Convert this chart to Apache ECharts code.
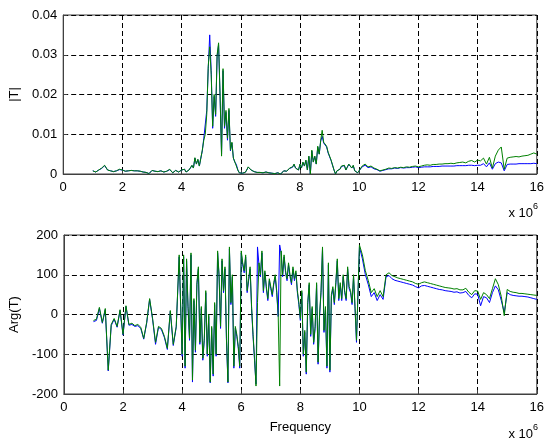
<!DOCTYPE html>
<html style="height: 100%">
<head>
    <meta charset="utf-8">
    <style type="text/css">
        .chartbox{width: 547px;height:441px;}
    </style>
</head>
<body style="height: 100%; margin: 0; background: #fff">
<div class="chartbox" id="container"></div>
<script src="https://cdn.jsdelivr.net/npm/echarts@6/dist/echarts.min.js"></script>
<script type="text/javascript">
    // frequency points, in units of 1e6
    var freq = [
        1.0,1.1,1.2,1.3,1.4,1.5,1.6,1.7,1.8,1.9,
        2.0,2.1,2.2,2.3,2.4,2.5,2.6,2.7,2.8,2.9,
        3.0,3.1,3.2,3.3,3.4,3.5,3.6,3.7,3.8,3.9,
        4.0,
        4.05,4.1,4.15,4.2,4.25,4.3,4.35,4.4,4.45,4.5,
        4.55,4.6,4.65,4.7,4.75,4.8,4.85,4.9,4.95,5.0,
        5.05,5.1,5.15,5.2,5.25,5.3,5.35,5.4,5.45,5.5,
        5.55,5.6,5.65,5.7,5.75,5.8,5.85,5.9,5.95,6.0,
        6.05,6.1,6.15,6.2,6.25,6.3,6.35,6.4,6.45,6.5,
        6.55,6.6,6.65,6.7,6.75,6.8,6.85,6.9,6.95,7.0,
        7.05,7.1,7.15,7.2,7.25,7.3,7.35,7.4,7.45,7.5,
        7.55,7.6,7.65,7.7,7.75,7.8,7.85,7.9,7.95,8.0,
        8.05,8.1,8.15,8.2,8.25,8.3,8.35,8.4,8.45,8.5,
        8.55,8.6,8.65,8.7,8.75,8.8,8.85,8.9,8.95,9.0,
        9.05,9.1,9.15,9.2,9.25,9.3,9.35,9.4,9.45,9.5,
        9.55,9.6,9.65,9.7,9.75,9.8,9.85,9.9,9.95,10.0,
        10.1,10.2,10.3,10.4,10.5,10.6,10.7,10.8,10.9,11.0,
        11.1,11.2,11.3,11.4,11.5,11.6,11.7,11.8,11.9,12.0,
        12.1,12.2,12.3,12.4,12.5,12.6,12.7,12.8,12.9,13.0,
        13.1,13.2,13.3,13.4,13.5,13.6,13.7,13.8,13.9,14.0,
        14.1,14.2,14.3,14.4,14.5,14.6,14.7,14.8,14.9,15.0,
        15.1,15.2,15.3,15.4,15.5,15.6,15.7,15.8,15.9,16.0
    ];

    // |T|, green trace
    var magGreen = [
        0.0008,0.0005,0.0010,0.0015,0.0022,0.0010,0.0008,0.0006,0.0008,0.0012,
        0.0010,0.0007,0.0008,0.0009,0.0008,0.0008,0.0007,0.0005,0.0004,0.0001,
        0.0009,0.0007,0.0006,0.0008,0.0005,0.0007,0.0012,0.0003,0.0009,0.0005,
        0.0010,
        0.0006,0.0012,0.0005,0.0008,0.0010,0.0013,0.0022,0.0015,0.0041,0.0025,
        0.0037,0.0020,0.0040,0.0060,0.0085,0.0100,0.0150,0.0270,0.0320,0.0250,
        0.0120,0.0200,0.0150,0.0300,0.0330,0.0200,0.0045,0.0265,0.0120,0.0160,
        0.0090,0.0165,0.0060,0.0080,0.0040,0.0030,0.0025,0.0010,0.0003,0.0000,
        0.0002,0.0001,0.0004,0.0010,0.0018,0.0014,0.0010,0.0008,0.0006,0.0005,
        0.0004,0.0006,0.0004,0.0005,0.0003,0.0004,0.0005,0.0004,0.0003,0.0004,
        0.0002,0.0003,0.0001,0.0002,0.0003,0.0001,0.0000,0.0004,0.0008,0.0010,
        0.0007,0.0012,0.0015,0.0010,0.0018,0.0025,0.0015,0.0020,0.0010,0.0025,
        0.0015,0.0030,0.0020,0.0035,0.0010,0.0045,0.0000,0.0060,0.0030,0.0045,
        0.0025,0.0070,0.0050,0.0085,0.0110,0.0080,0.0075,0.0070,0.0055,0.0060,
        0.0035,0.0030,0.0010,0.0000,0.0008,0.0005,0.0012,0.0020,0.0015,0.0022,
        0.0010,0.0018,0.0025,0.0020,0.0015,0.0022,0.0008,0.0012,0.0003,0.0008,
        0.0020,0.0025,0.0018,0.0020,0.0015,0.0012,0.0008,0.0010,0.0012,0.0015,
        0.0014,0.0016,0.0015,0.0017,0.0016,0.0018,0.0017,0.0019,0.0020,0.0018,
        0.0020,0.0022,0.0023,0.0022,0.0024,0.0024,0.0025,0.0025,0.0026,0.0026,
        0.0027,0.0026,0.0028,0.0029,0.0030,0.0028,0.0032,0.0034,0.0030,0.0035,
        0.0033,0.0040,0.0025,0.0042,0.0015,0.0045,0.0060,0.0068,0.0012,0.0040,
        0.0042,0.0043,0.0044,0.0043,0.0045,0.0046,0.0047,0.0050,0.0053,0.0050
    ];

    // |T|, blue trace
    var magBlue = [
        0.0008,0.0005,0.0010,0.0014,0.0021,0.0010,0.0008,0.0006,0.0008,0.0011,
        0.0010,0.0007,0.0008,0.0009,0.0008,0.0008,0.0007,0.0005,0.0004,0.0001,
        0.0009,0.0007,0.0006,0.0008,0.0005,0.0007,0.0011,0.0003,0.0009,0.0005,
        0.0010,
        0.0006,0.0012,0.0005,0.0008,0.0010,0.0013,0.0021,0.0015,0.0040,0.0025,
        0.0036,0.0020,0.0040,0.0058,0.0090,0.0095,0.0160,0.0265,0.0350,0.0260,
        0.0115,0.0195,0.0145,0.0295,0.0325,0.0195,0.0050,0.0260,0.0115,0.0155,
        0.0085,0.0160,0.0058,0.0078,0.0040,0.0030,0.0024,0.0010,0.0003,0.0000,
        0.0002,0.0001,0.0004,0.0010,0.0017,0.0013,0.0010,0.0008,0.0006,0.0005,
        0.0004,0.0006,0.0004,0.0005,0.0003,0.0004,0.0005,0.0004,0.0003,0.0004,
        0.0002,0.0003,0.0001,0.0002,0.0003,0.0001,0.0000,0.0004,0.0008,0.0010,
        0.0007,0.0012,0.0014,0.0010,0.0017,0.0024,0.0015,0.0019,0.0010,0.0024,
        0.0015,0.0029,0.0020,0.0034,0.0010,0.0044,0.0000,0.0058,0.0030,0.0044,
        0.0025,0.0068,0.0050,0.0083,0.0095,0.0078,0.0073,0.0068,0.0053,0.0058,
        0.0034,0.0029,0.0010,0.0000,0.0008,0.0005,0.0012,0.0019,0.0015,0.0021,
        0.0010,0.0017,0.0024,0.0019,0.0015,0.0021,0.0008,0.0012,0.0003,0.0008,
        0.0018,0.0022,0.0016,0.0018,0.0013,0.0011,0.0007,0.0009,0.0011,0.0013,
        0.0013,0.0015,0.0014,0.0016,0.0015,0.0016,0.0016,0.0017,0.0018,0.0016,
        0.0017,0.0018,0.0018,0.0018,0.0019,0.0019,0.0019,0.0020,0.0020,0.0020,
        0.0020,0.0020,0.0021,0.0021,0.0021,0.0021,0.0022,0.0022,0.0021,0.0022,
        0.0022,0.0026,0.0018,0.0028,0.0012,0.0026,0.0030,0.0028,0.0008,0.0024,
        0.0025,0.0025,0.0025,0.0026,0.0026,0.0026,0.0026,0.0026,0.0027,0.0026
    ];

    // Arg(T), green trace
    var argGreen = [
        -15,-12,18,-20,15,-140,-25,-10,-30,12,
        -50,22,-25,-22,-28,-25,-32,-60,-20,40,
        -10,-70,-30,-35,-55,-85,10,-75,-30,150,
        -100,
        150,-130,140,20,-60,155,-165,40,-90,80,
        120,-70,20,-110,-60,60,-100,0,-170,-30,
        -150,30,-100,160,100,-30,140,60,120,-60,
        -170,170,30,100,-130,-30,-50,-80,-130,160,
        130,110,150,60,90,120,20,-50,-110,-180,
        30,130,100,160,60,110,70,40,90,70,
        50,80,100,60,0,-180,160,100,150,110,
        90,130,100,80,120,90,110,60,30,-10,
        60,-100,-40,-145,30,80,-50,20,-70,-30,
        80,-120,0,60,170,-40,20,-130,130,-140,
        50,70,30,80,140,40,80,40,100,60,
        40,120,70,60,30,100,20,-65,-60,175,
        150,110,85,55,65,45,60,45,100,105,
        98,95,92,90,88,86,84,82,78,76,
        80,82,80,78,76,74,72,70,68,67,
        66,64,65,62,62,66,56,50,60,59,
        38,55,50,40,65,90,75,45,-3,63,
        58,56,55,53,53,52,51,50,49,48
    ];

    // Arg(T), blue trace
    var argBlue = [
        -18,-15,15,-22,12,-142,-28,-12,-32,10,
        -52,20,-27,-25,-30,-28,-35,-62,-22,38,
        -12,-75,-32,-38,-58,-88,8,-78,-32,145,
        -105,
        145,-135,135,15,-65,150,-170,35,-95,75,
        115,-75,15,-115,-65,55,-105,-5,-172,-35,
        -155,25,-105,155,95,-35,135,55,115,-65,
        -172,165,25,95,-135,-35,-55,-85,-135,155,
        125,105,145,55,85,115,15,-55,-115,-175,
        170,125,95,155,55,105,65,35,85,65,
        45,75,95,55,-5,175,155,95,145,105,
        85,125,95,75,115,85,105,55,25,-15,
        55,-105,-45,-150,25,75,-55,15,-75,-35,
        75,-125,-5,55,165,-45,15,-135,125,-145,
        45,65,25,75,135,35,75,35,95,55,
        35,115,65,55,25,95,15,-70,-65,170,
        140,100,75,45,55,35,50,38,95,98,
        90,86,84,82,80,78,76,74,70,67,
        72,73,71,69,67,65,63,62,60,59,
        58,56,57,54,55,58,48,42,52,51,
        22,45,42,30,55,72,62,35,5,55,
        50,48,47,46,46,45,44,42,40,38
    ];

    var xTicks = [0, 16, 2];
    var magTicks = [0, 0.04, 0.01];
    var argTicks = [-200, 200, 100];

    function pairs(y) {
        return freq.map(function (f, i) { return [f, y[i]]; });
    }

    var fontName = 'Liberation Sans';
    var gridLine = { show: true, lineStyle: { color: '#000', type: [5, 3], width: 1 } };
    var lbl = { color: '#000', fontFamily: fontName, fontSize: 13 };

    function xAx(idx, name) {
        return {
            gridIndex: idx, type: 'value',
            min: xTicks[0], max: xTicks[1], interval: xTicks[2],
            axisLine: { show: true, onZero: false, lineStyle: { color: '#404040' } },
            axisTick: { show: true, inside: true, length: 4, lineStyle: { color: '#404040' } },
            axisLabel: Object.assign({ margin: 7 }, lbl),
            splitLine: gridLine,
            name: name, nameLocation: 'middle', nameGap: 27,
            nameTextStyle: { color: '#000', fontFamily: fontName, fontSize: 13 }
        };
    }
    function yAx(idx, ticks, name) {
        return {
            gridIndex: idx, type: 'value',
            min: ticks[0], max: ticks[1], interval: ticks[2],
            axisLine: { show: true, onZero: false, lineStyle: { color: '#404040' } },
            axisTick: { show: true, inside: true, length: 4, lineStyle: { color: '#404040' } },
            axisLabel: Object.assign({ margin: 6 }, lbl),
            splitLine: gridLine,
            name: name, nameLocation: 'middle', nameGap: 32, nameRotate: 90,
            nameTextStyle: { color: '#000', fontFamily: fontName, fontSize: 13 }
        };
    }

    function expLabel(y) {
        return [
            { type: 'text', right: 14, top: y, style: { text: 'x 10', fill: '#000', font: '13px "Liberation Sans"' } },
            { type: 'text', left: 533, top: y - 5, style: { text: '6', fill: '#000', font: '9px "Liberation Sans"' } }
        ];
    }

    var dom = document.getElementById("container");
    var myChart = echarts.init(dom);
    var option = {
        animation: false,
        backgroundColor: '#fff',
        grid: [
            { left: 63, right: 7, top: 15, height: 159, show: true, borderColor: '#404040', borderWidth: 1 },
            { left: 63, right: 7, top: 235, height: 159, show: true, borderColor: '#404040', borderWidth: 1 }
        ],
        xAxis: [xAx(0, ''), xAx(1, 'Frequency')],
        yAxis: [yAx(0, magTicks, '|T|'), yAx(1, argTicks, 'Arg(T)')],
        graphic: expLabel(207).concat(expLabel(428)),
        series: [
            { type: 'line', xAxisIndex: 0, yAxisIndex: 0, data: pairs(magBlue), showSymbol: false,
              lineStyle: { color: '#0000ff', width: 1 }, itemStyle: { color: '#0000ff' } },
            { type: 'line', xAxisIndex: 0, yAxisIndex: 0, data: pairs(magGreen), showSymbol: false,
              lineStyle: { color: '#008000', width: 1 }, itemStyle: { color: '#008000' } },
            { type: 'line', xAxisIndex: 1, yAxisIndex: 1, data: pairs(argBlue), showSymbol: false,
              lineStyle: { color: '#0000ff', width: 1 }, itemStyle: { color: '#0000ff' } },
            { type: 'line', xAxisIndex: 1, yAxisIndex: 1, data: pairs(argGreen), showSymbol: false,
              lineStyle: { color: '#008000', width: 1 }, itemStyle: { color: '#008000' } }
        ]
    };
    if (option && typeof option === "object") {
        myChart.setOption(option, true);
    }
</script>
</body>
</html>
